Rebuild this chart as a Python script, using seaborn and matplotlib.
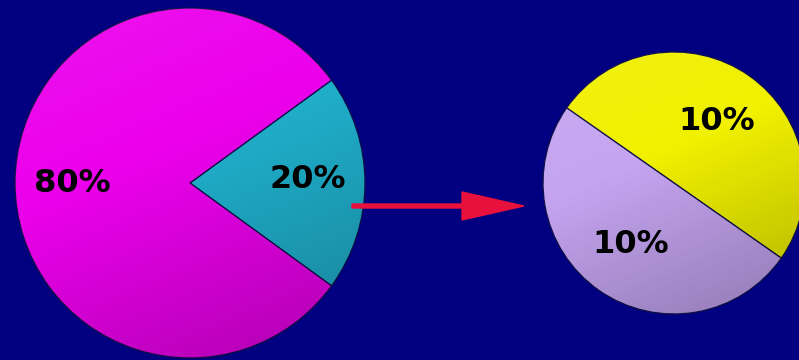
import numpy as np
import matplotlib
matplotlib.use("Agg")
import matplotlib.pyplot as plt
from matplotlib.patches import Circle, FancyArrow
import seaborn as sns

# Whole split: the slice that gets broken down vs. the rest
main_labels = ["20%", "80%"]
main_values = [20, 80]
# Breakdown of the 20% slice
detail_labels = ["10% (a)", "10% (b)"]
detail_values = [10, 10]

BG = "#000080"
main_colors = sns.color_palette(["#20B0CC", "#EC00EC"])
detail_colors = sns.color_palette(["#F0F000", "#C4A4F0"])

sns.set_theme(style="white")
plt.rcParams["font.family"] = ["DejaVu Sans"]

W, H = 799, 360
fig = plt.figure(figsize=(W / 100, H / 100), dpi=100, facecolor=BG)
ax = fig.add_axes([0, 0, 1, 1])
ax.set_facecolor(BG)

text_kw = dict(fontsize=23, fontweight="bold", color="black")
edge_kw = dict(edgecolor="#10104a", linewidth=0.9)


def shade(center, radius):
    """Soft top-left highlight / bottom-right shadow over a pie."""
    n = 200
    yy, xx = np.mgrid[0:1:complex(0, n), 0:1:complex(0, n)]
    t = (0.6 * xx + 1.4 * yy) / 2.0  # 0 at top-left, 1 at bottom-right (image rows run downward)
    rgba = np.zeros((n, n, 4))
    dark = np.clip(t - 0.4, 0, None) / 0.6
    light = np.clip(0.4 - t, 0, None) / 0.4
    rgba[..., :3] = np.where(dark[..., None] > 0, 0.0, 1.0)
    rgba[..., 3] = 0.26 * dark + 0.08 * light
    cx, cy = center
    im = ax.imshow(rgba, extent=(cx - radius, cx + radius, cy - radius, cy + radius),
                   origin="upper", zorder=3, interpolation="bilinear")
    im.set_clip_path(Circle(center, radius, transform=ax.transData))


# Left pie: 80 / 20
c1, r1 = (190, H - 183), 175
total_main = sum(main_values)
wedges1, _, auto1 = ax.pie(
    main_values, colors=main_colors, startangle=-36, center=c1, radius=r1,
    autopct=lambda p: f"{p * total_main / 100:.0f}%", pctdistance=0.67,
    wedgeprops=edge_kw, textprops=text_kw, frame=True,
)
shade(c1, r1)
auto1[0].set_y(auto1[0].get_position()[1] + 4)

# Right pie: the 20% slice split into two 10% parts
c2, r2 = (674, H - 183), 131
total_detail = sum(detail_values)
wedges2, _, auto2 = ax.pie(
    detail_values, colors=detail_colors, startangle=-35, center=c2, radius=r2,
    autopct=lambda p: f"{p * total_detail / 100:.0f}%", pctdistance=0.57,
    wedgeprops=edge_kw, textprops=text_kw, frame=True,
)
shade(c2, r2)

for t in auto1 + auto2:
    t.set_zorder(5)

# Red arrow from the 20% slice to its breakdown
ax.add_patch(FancyArrow(352, H - 206, 172, 0, width=4, head_width=28,
                        head_length=62, length_includes_head=True,
                        color="#E8103C", zorder=6))

ax.set_xlim(0, W)
ax.set_ylim(0, H)
ax.set_aspect("equal")
ax.axis("off")

fig.savefig("out.png", dpi=100, facecolor=BG)
